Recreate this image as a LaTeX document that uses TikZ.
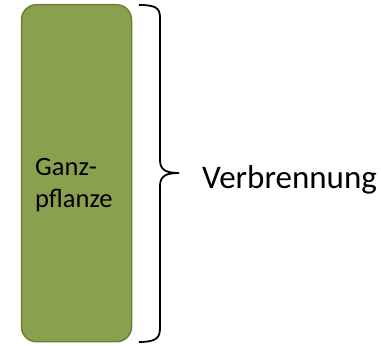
\documentclass[tikz,border=0pt]{standalone}
\usepackage{fontspec}
\setmainfont{Carlito}
\definecolor{olivefill}{RGB}{137,160,78}
\definecolor{oliveedge}{RGB}{108,128,58}
\begin{document}
\begin{tikzpicture}[x=1pt,y=1pt,
  plantbox/.style={draw=oliveedge, fill=olivefill, line width=1.5pt, rounded corners=15pt, minimum width=110pt, minimum height=337pt, inner sep=0pt},
  smalltxt/.style={font=\fontsize{26.5}{31.3}\selectfont, align=left, inner sep=0pt, anchor=base west},
  bigtxt/.style={font=\fontsize{33}{40}\selectfont, inner sep=0pt, anchor=base west},
  bracestyle/.style={line width=1.8pt, black}]
\useasboundingbox (0,0) rectangle (381,346);
\node[plantbox] (box) at (76.5,172.75) {};
\node[smalltxt] (lbl) at (35,138.7) {Ganz-\\pflanze};
\coordinate (btop) at (139,341);
\coordinate (bbot) at (139,4);
\coordinate (tip) at (179,173);
\draw[bracestyle] (btop) .. controls (156,341) and (160,338) .. (160,328)
  -- (160,186) .. controls (160,176) and (166,173) .. (tip)
  .. controls (166,173) and (160,170) .. (160,160)
  -- (160,18) .. controls (160,8) and (156,4) .. (bbot);
\node[bigtxt] (verb) at (202,157) {Verbrennung};
\end{tikzpicture}
\end{document}
